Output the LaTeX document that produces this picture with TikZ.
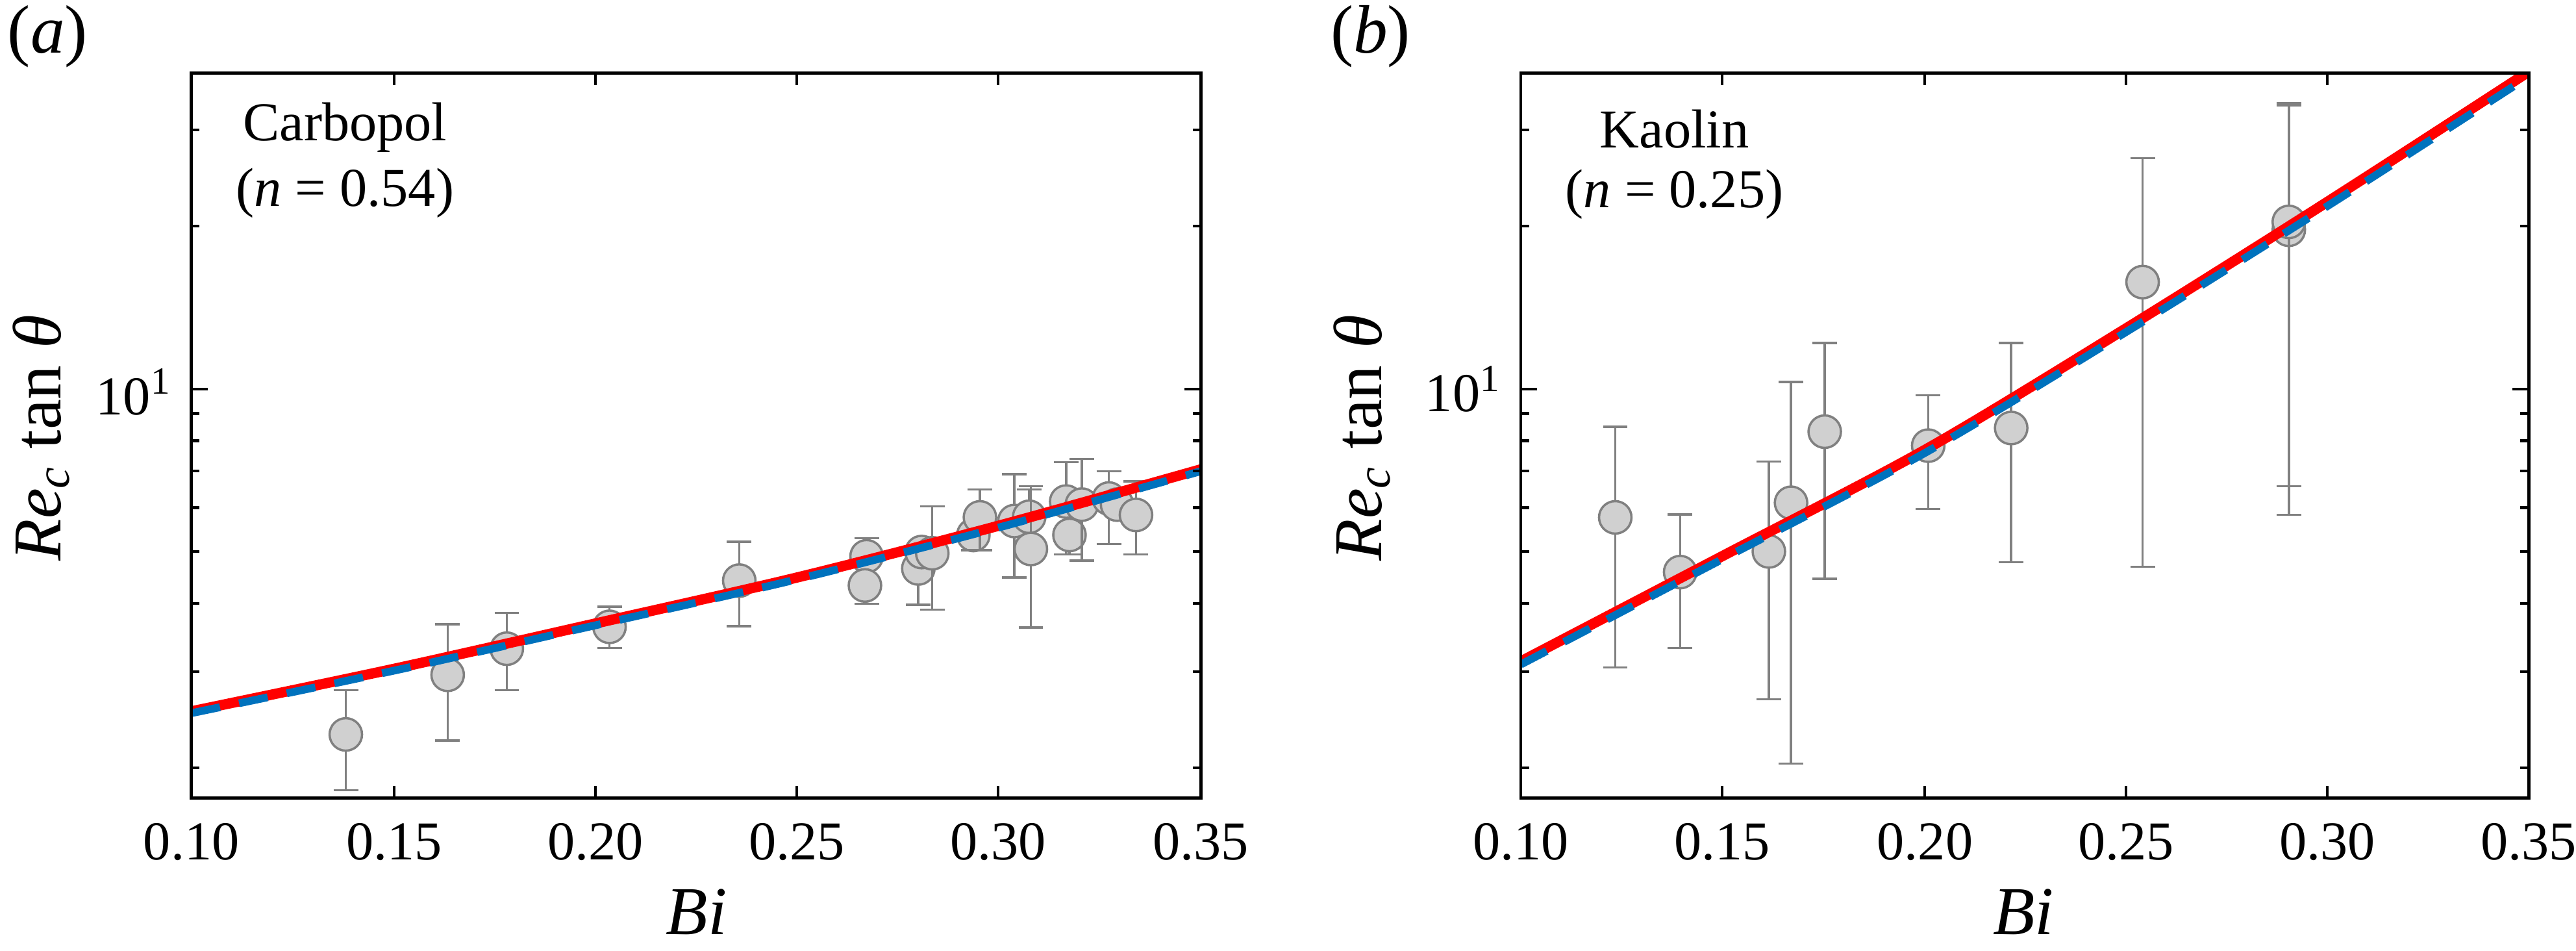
\documentclass[tikz,border=0pt]{standalone}
\usepackage{fontspec}
\setmainfont{Liberation Serif}
\usepackage{tikz}
\definecolor{fitblue}{RGB}{0,114,189}
\definecolor{dotgray}{RGB}{208,208,208}
\tikzset{
  frame/.style={line width=1.4pt},
  tick/.style={line width=1.2pt},
  errbar/.style={draw=gray, line width=1pt},
  dot/.style={circle, draw=gray, fill=dotgray, line width=1pt, minimum size=0.5cm, inner sep=0pt},
  fitred/.style={red, line width=4.5pt},
  fitdash/.style={fitblue, line width=3.4pt, dash pattern=on 0.45cm off 0.3cm},
  ticklab/.style={font=\fontsize{24}{28}\selectfont},
  axlab/.style={font=\fontsize{30}{36}\selectfont},
}
\newcommand\ylogticks{%
  \foreach \t in {1263,1105,993,907,835,775,725,680,372,214}
    {\draw[tick] (\xl,\t) -- ++(10,0); \draw[tick] (\xr,\t) -- ++(-10,0);}
  \draw[tick] (\xl,640) -- ++(20,0); \draw[tick] (\xr,640) -- ++(-20,0);}
\newcommand\ylabtext{\textit{Re}\textsubscript{\textit{c}} tan \textit{θ}}
\begin{document}
\begin{tikzpicture}
\useasboundingbox (0,0) rectangle (39.67,14.63);
% panel (a)
\begin{scope}[x=0.1265mm, y=-0.0936mm, shift={(0cm,14.63cm)}]
\def\xl{233}\def\xr{1462}
\foreach \x/\y/\lo/\hi [count=\i] in {421/1208/1135/1300, 545/1110/1027/1218, 617/1067/1008/1135,
  742/1031/998/1066, 900/955/891/1030, 1055/915/885/993, 1053/963/963/963,
  1118/935/905/995, 1122/908/908/908, 1135/910/833/1003, 1185/880/870/905, 1193/851/805/905,
  1235/857/780/950, 1253/850/805/850, 1255/903/800/1032, 1298/825/760/912, 1302/880/880/912,
  1317/830/755/922, 1350/820/775/895, 1360/830/830/830, 1383/847/792/912}
{
  \draw[errbar] (\x,\lo) -- (\x,\hi) (\x-15,\lo) -- (\x+15,\lo) (\x-15,\hi) -- (\x+15,\hi);
  \node[dot] (a\i) at (\x,\y) {};
}
\begin{scope}
\clip (\xl,120) rectangle (\xr,1313);
\draw[fitred] plot[smooth] coordinates {(233,1170) (480,1100) (720,1027) (970,950) (1215,865) (1462,772)};
\draw[fitdash] plot[smooth] coordinates {(233,1173) (480,1103) (720,1030) (970,953) (1215,868) (1462,775)};
\end{scope}
\draw[frame] (\xl,120) rectangle (\xr,1313);
\foreach \t in {480,725,970,1215}
  {\draw[tick] (\t,1313) -- ++(0,-20); \draw[tick] (\t,120) -- ++(0,20);}
\ylogticks
\foreach \t/\lab in {233/0.10,480/0.15,725/0.20,970/0.25,1215/0.30,1462/0.35}
  \node[ticklab] (ta\lab) at (\t,1385) {\lab};
\node[ticklab, anchor=east] (ya) at (218,645) {10\textsuperscript{1}};
\node[axlab] (xa) at (848,1500) {\textit{Bi}};
\node[axlab, rotate=90] (yla) at (50,720) {\ylabtext};
\node[axlab] (pa) at (58,60) {(\textit{a})};
\node[ticklab] (ca) at (420,210) {Carbopol};
\node[ticklab] (na) at (420,318) {(\textit{n} = 0.54)};
\end{scope}
% panel (b)
\begin{scope}[x=0.1265mm, y=-0.0936mm, shift={(19.84cm,14.63cm)}]
\def\xl{283}\def\xr{1510}
\foreach \x/\y/\lo/\hi [count=\i] in {398/851/702/1098, 477/941/846/1066, 585/907/759/1150,
  612/827/628/1256, 653/710/564/952, 779/733/650/837, 880/704/564/925, 1040/464/260/932,
  1218/378/170/847, 1218/365/173/800}
{
  \draw[errbar] (\x,\lo) -- (\x,\hi) (\x-15,\lo) -- (\x+15,\lo) (\x-15,\hi) -- (\x+15,\hi);
  \node[dot] (b\i) at (\x,\y) {};
}
\begin{scope}
\clip (\xl,120) rectangle (\xr,1313);
\draw[fitred] plot[smooth] coordinates {(283,1088) (528,915) (775,740) (1020,540) (1265,332) (1510,118)};
\draw[fitdash] plot[smooth] coordinates {(283,1093) (528,920) (775,745) (1020,546) (1265,339) (1510,126)};
\end{scope}
\draw[frame] (\xl,120) rectangle (\xr,1313);
\foreach \t in {528,775,1020,1265}
  {\draw[tick] (\t,1313) -- ++(0,-20); \draw[tick] (\t,120) -- ++(0,20);}
\ylogticks
\foreach \t/\lab in {283/0.10,528/0.15,775/0.20,1020/0.25,1265/0.30,1510/0.35}
  \node[ticklab] (tb\lab) at (\t,1385) {\lab};
\node[ticklab, anchor=east] (yb) at (268,640) {10\textsuperscript{1}};
\node[axlab] (xb) at (895,1500) {\textit{Bi}};
\node[axlab, rotate=90] (ylb) at (90,720) {\ylabtext};
\node[axlab] (pb) at (100,60) {(\textit{b})};
\node[ticklab] (cb) at (470,212) {Kaolin};
\node[ticklab] (nb) at (470,320) {(\textit{n} = 0.25)};
\end{scope}
\end{tikzpicture}
\end{document}
